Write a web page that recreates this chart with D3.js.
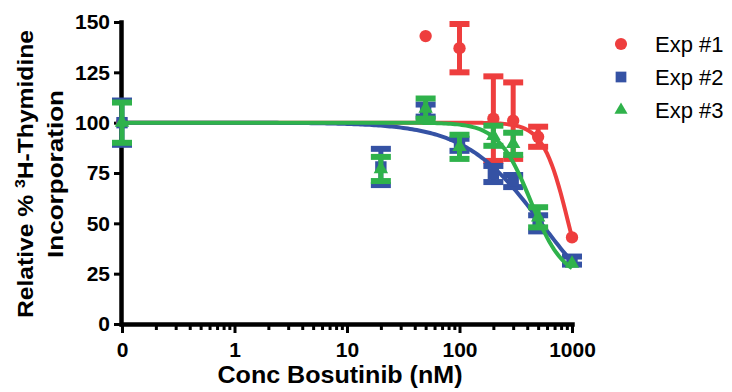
<!DOCTYPE html>
<html>
<head>
<meta charset="utf-8">
<script src="https://cdn.jsdelivr.net/npm/d3@7"></script>
<style>
  html, body { margin: 0; padding: 0; background: #fff; }
  svg { display: block; }
  .axis path, .axis line { stroke: #000; }
  .axis text { font-family: "Liberation Sans", Arial, sans-serif; font-weight: bold; fill: #000; }
</style>
</head>
<body>
<svg id="chart" width="732" height="392"></svg>
<script>
// Bosutinib concentrations (nM); 0 is plotted at the left end of the log axis
const conc = [0, 20, 50, 100, 200, 300, 500, 1000];

// Mean relative 3H-thymidine incorporation (%) and SEM for each experiment
const exp1Mean = [100, null, 143, 137, 102, 101, 93, 43];
const exp1Err  = [0, null, 0, 12, 21, 19, 5, 0];
const exp2Mean = [100, 78, 106, 89, 74.5, 71, 50, 31.5];
const exp2Err  = [11, 9, 3, 3, 4, 3, 4, 2];
const exp3Mean = [100, 77, 107, 88, 93.5, 89.5, 53, 30];
const exp3Err  = [10, 6, 5, 6, 5, 5.5, 5, 0];

// Four-parameter logistic fits: [top, bottom, IC50 (nM), Hill slope]
const exp1Fit = [100, 0, 930, 3.9];
const exp2Fit = [100, 0, 534, 1.28];
const exp3Fit = [100, 22, 430, 3.0];

const seriesNames = ["Exp #1", "Exp #2", "Exp #3"];
const seriesColors = ["#ee3e3e", "#3552a4", "#2fb24b"];

const xTickValues = [0.1, 1, 10, 100, 1000];
const xTickLabels = ["0", "1", "10", "100", "1000"];
const yTickValues = [0, 25, 50, 75, 100, 125, 150];

const series = [
  { name: seriesNames[0], mean: exp1Mean, err: exp1Err, fit: exp1Fit, color: seriesColors[0], shape: d3.symbolCircle, size: 120 },
  { name: seriesNames[1], mean: exp2Mean, err: exp2Err, fit: exp2Fit, color: seriesColors[1], shape: d3.symbolSquare, size: 130 },
  { name: seriesNames[2], mean: exp3Mean, err: exp3Err, fit: exp3Fit, color: seriesColors[2], shape: d3.symbolTriangle, size: 90 }
];

const svg = d3.select("#chart");
const font = '"Liberation Sans", Arial, sans-serif';

const x = d3.scaleLog().domain([0.1, 1000]).range([122, 572]);
const y = d3.scaleLinear().domain([0, 150]).range([324, 22]);
const xpos = c => x(c === 0 ? 0.1 : c);

// Minor log ticks between decades
const minorTicks = [];
[0.1, 1, 10, 100].forEach(d => { for (let k = 2; k <= 9; k++) minorTicks.push(d * k); });

// X axis: minor ticks first, then major ticks with labels
const xMinor = svg.append("g").attr("class", "axis")
  .attr("transform", `translate(0,${y(0)})`)
  .call(d3.axisBottom(x).tickValues(minorTicks).tickSize(6).tickSizeOuter(0).tickFormat(""));
xMinor.select(".domain").remove();
xMinor.selectAll("line").attr("stroke-width", 3);

const xAxis = svg.append("g").attr("class", "axis")
  .attr("transform", `translate(0,${y(0)})`)
  .call(d3.axisBottom(x).tickValues(xTickValues).tickSize(9).tickSizeOuter(0)
    .tickFormat((d, i) => xTickLabels[i]));
xAxis.select(".domain").attr("stroke-width", 4.5).attr("stroke-linecap", "square");
xAxis.selectAll("line").attr("stroke-width", 3);
xAxis.selectAll("text").attr("font-size", 21).attr("y", 18).attr("dy", "0.71em");

// Y axis
const yAxis = svg.append("g").attr("class", "axis")
  .attr("transform", `translate(${x(0.1) - 1},0)`)
  .call(d3.axisLeft(y).tickValues(yTickValues).tickSize(7).tickSizeOuter(0));
yAxis.select(".domain").attr("stroke-width", 4.5).attr("stroke-linecap", "square");
yAxis.selectAll("line").attr("stroke-width", 3);
yAxis.selectAll("text").attr("font-size", 21).attr("x", -11);

// Axis titles
svg.append("text")
  .attr("x", 340).attr("y", 383)
  .attr("text-anchor", "middle")
  .attr("font-family", font).attr("font-weight", "bold").attr("font-size", 23)
  .attr("textLength", 245).attr("lengthAdjust", "spacingAndGlyphs")
  .text("Conc Bosutinib (nM)");

const yt1 = svg.append("text")
  .attr("transform", "translate(33,174) rotate(-90)")
  .attr("text-anchor", "middle")
  .attr("font-family", font).attr("font-weight", "bold").attr("font-size", 22)
  .attr("textLength", 288).attr("lengthAdjust", "spacingAndGlyphs");
yt1.append("tspan").text("Relative % ");
yt1.append("tspan").attr("font-size", 14).attr("dy", -8).text("3");
yt1.append("tspan").attr("dy", 8).text("H-Thymidine");

svg.append("text")
  .attr("transform", "translate(63,174) rotate(-90)")
  .attr("text-anchor", "middle")
  .attr("font-family", font).attr("font-weight", "bold").attr("font-size", 22)
  .attr("textLength", 168).attr("lengthAdjust", "spacingAndGlyphs")
  .text("Incorporation");

// Fitted dose-response curve
const logistic = (p, c) => p[1] + (p[0] - p[1]) / (1 + Math.pow(c / p[2], p[3]));
const curveConc = d3.range(0, 201).map(i => Math.pow(10, -1 + 4 * i / 200));
const line = d3.line().x(d => x(d[0])).y(d => y(d[1])).curve(d3.curveLinear);

const capHalf = 10;

series.forEach(s => {
  const g = svg.append("g");
  g.append("path")
    .attr("d", line(curveConc.map(c => [c, logistic(s.fit, c)])))
    .attr("fill", "none").attr("stroke", s.color).attr("stroke-width", 4);

  const pts = conc.map((c, i) => ({ c, m: s.mean[i], e: s.err[i] })).filter(d => d.m !== null);

  const eb = g.selectAll(".eb").data(pts.filter(d => d.e > 0)).join("g");
  eb.append("line")
    .attr("x1", d => xpos(d.c)).attr("x2", d => xpos(d.c))
    .attr("y1", d => y(d.m + d.e)).attr("y2", d => y(d.m - d.e))
    .attr("stroke", s.color).attr("stroke-width", 5);
  [1, -1].forEach(sign => {
    eb.append("line")
      .attr("x1", d => xpos(d.c) - capHalf).attr("x2", d => xpos(d.c) + capHalf)
      .attr("y1", d => y(d.m + sign * d.e)).attr("y2", d => y(d.m + sign * d.e))
      .attr("stroke", s.color).attr("stroke-width", 6);
  });

  g.selectAll(".pt").data(pts).join("path")
    .attr("d", d3.symbol().type(s.shape).size(s.size))
    .attr("transform", d => `translate(${xpos(d.c)},${y(d.m)})`)
    .attr("fill", s.color);
});

// Legend
const legend = svg.append("g");
series.forEach((s, i) => {
  const ly = 44 + i * 33;
  legend.append("path")
    .attr("d", d3.symbol().type(s.shape).size(i === 2 ? 75 : 115))
    .attr("transform", `translate(621,${ly})`)
    .attr("fill", s.color);
  legend.append("text")
    .attr("x", 655).attr("y", ly)
    .attr("dy", "0.35em")
    .attr("font-family", font).attr("font-size", 22)
    .attr("fill", "#000")
    .text(s.name);
});
</script>
</body>
</html>
